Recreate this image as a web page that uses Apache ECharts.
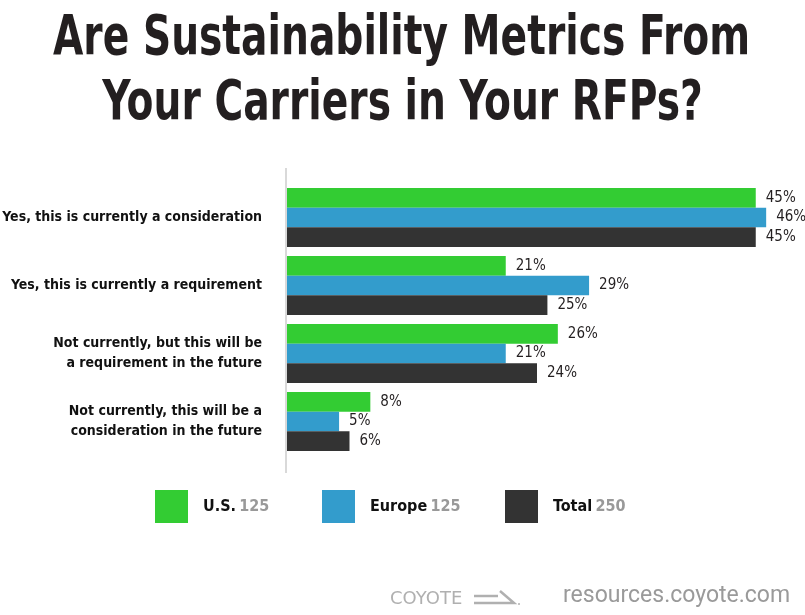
<!DOCTYPE html>
<html>
<head>
<meta charset="utf-8">
<script src="https://cdn.jsdelivr.net/npm/echarts@6/dist/echarts.min.js"></script>
<style>html,body{margin:0;padding:0;background:#fff;}#c{width:805px;height:615px;}</style>
</head>
<body>
<div id="c"></div>
<script>
const categories = [
  "Yes, this is currently a consideration",
  "Yes, this is currently a requirement",
  "Not currently, but this will be\na requirement in the future",
  "Not currently, this will be a\nconsideration in the future"
];
const seriesNames = ["U.S.", "Europe", "Total"];
const legendCounts = [125, 125, 250];
const usValues = [45, 21, 26, 8];
const europeValues = [46, 29, 21, 5];
const totalValues = [45, 25, 24, 6];
const titleLines = ["Are Sustainability Metrics From", "Your Carriers in Your RFPs?"];
const footerUrl = "resources.coyote.com";
const logoText = "COYOTE";

const NARROW = '"Liberation Sans Narrow", "DejaVu Sans Condensed", "Liberation Sans", sans-serif';
const TITLE_FONT = 'bold 55px "DejaVu Sans Condensed", "Liberation Sans", sans-serif';
const colors = ["#33cc33", "#339ccc", "#333333"];
const valuesList = [usValues, europeValues, totalValues];

// squeeze the title horizontally to mimic the condensed headline face
const mctx = document.createElement('canvas').getContext('2d');
mctx.font = TITLE_FONT;
const titleScale = 697 / mctx.measureText(titleLines[0]).width;

const chart = echarts.init(document.getElementById('c'), null, {renderer: 'canvas'});

const legends = seriesNames.map((n, i) => ({
  data: [n],
  left: [155, 322, 505][i],
  top: 490,
  padding: 0,
  itemWidth: 33,
  itemHeight: 33,
  icon: 'rect',
  selectedMode: false,
  formatter: name => `{b|${name}} {n|${legendCounts[i]}}`,
  textStyle: {
    padding: [0, 0, 0, 10],
    rich: {
      b: {fontFamily: NARROW, fontWeight: 'bold', fontSize: 16, color: '#111'},
      n: {fontFamily: NARROW, fontWeight: 'bold', fontSize: 16, color: '#999'}
    }
  }
}));

chart.setOption({
  animation: false,
  backgroundColor: '#fff',
  legend: legends,
  grid: {left: 287, top: 183.5, width: 500, height: 272, containLabel: false, outerBoundsMode: 'none'},
  xAxis: {
    type: 'value', min: 0, max: 48, show: false
  },
  yAxis: {
    type: 'category',
    data: categories,
    inverse: true,
    axisLine: {show: false},
    axisTick: {show: false},
    axisLabel: {
      margin: 25,
      fontFamily: NARROW, fontWeight: 'bold', fontSize: 14, color: '#111', lineHeight: 20, align: 'right'
    }
  },
  series: seriesNames.map((n, i) => ({
    name: n,
    type: 'bar',
    data: valuesList[i],
    barGap: '0%',
    barCategoryGap: '13.2%',
    itemStyle: {color: colors[i]},
    label: {
      show: true, position: 'right', distance: 10,
      formatter: '{c}%',
      fontFamily: NARROW, fontSize: 15, color: '#231f20'
    }
  })),
  graphic: [
    {type: 'text', x: 401.5, y: 40, scaleX: titleScale, style: {text: titleLines[0], font: TITLE_FONT, fill: '#231f20', align: 'center', verticalAlign: 'middle'}},
    {type: 'text', x: 402.5, y: 105, scaleX: titleScale, style: {text: titleLines[1], font: TITLE_FONT, fill: '#231f20', align: 'center', verticalAlign: 'middle'}},
    {type: 'line', shape: {x1: 286, y1: 168, x2: 286, y2: 473}, style: {stroke: '#d9d9d9', lineWidth: 2}, z: 10},
    {type: 'text', left: 563, top: 585, style: {text: footerUrl, fontFamily: 'Roboto, "Liberation Sans", sans-serif', fontSize: 23, fill: '#9a9a9a'}},
    {type: 'text', left: 390, top: 590, style: {text: logoText, fontFamily: '"DejaVu Sans", sans-serif', fontSize: 18, fill: '#b0b0b0'}},
    {type: 'polyline', shape: {points: [[474, 596], [498, 596]]}, style: {stroke: '#b0b0b0', lineWidth: 2.5, fill: null}},
    {type: 'polyline', shape: {points: [[474, 603], [514, 603], [500, 591]]}, style: {stroke: '#b0b0b0', lineWidth: 2.5, fill: null}},
    {type: 'circle', shape: {cx: 519, cy: 604, r: 1}, style: {fill: '#b0b0b0'}}
  ]
});
</script>
</body>
</html>
